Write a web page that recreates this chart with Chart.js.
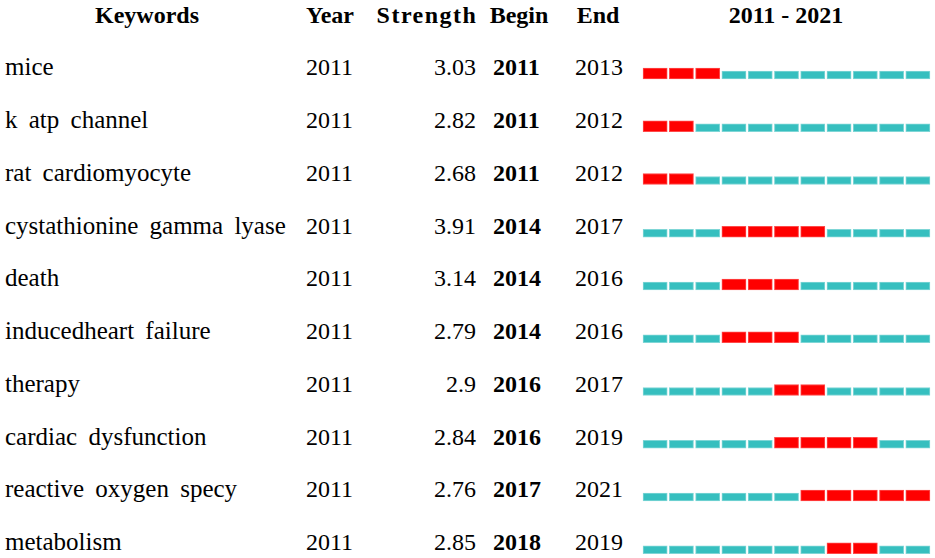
<!DOCTYPE html>
<html>
<head>
<meta charset="utf-8">
<script src="https://cdn.jsdelivr.net/npm/chart.js@4/dist/chart.umd.min.js"></script>
<style>
    body { margin: 0; background: #fff; }
    #wrap { position: relative; width: 935px; height: 558px; overflow: hidden; font-family: 'Liberation Serif', 'Times New Roman', serif; font-size: 24px; color: #000; }
    #tabla { position: absolute; left: 0; top: -11.5px; width: 935px; }
    .fila { position: relative; height: 52.75px; line-height: 52.75px; white-space: nowrap; }
    .fila span { position: absolute; top: 0; }
    .cab { font-weight: bold; }
    .cab span { transform: translateX(-50%); }
    .b { font-weight: bold; }
    .kw { font-size: 25px; word-spacing: 5px; }
    #barras { position: absolute; left: 630px; top: 0; width: 305px; height: 558px; }
</style>
</head>
<body>
<div id="wrap">
    <div id="tabla"></div>
    <div id="barras"><canvas id="burstChart" width="305" height="558"></canvas></div>
</div>
<script>
// Datos de la tabla
const keywords = ['mice', 'k atp channel', 'rat cardiomyocyte', 'cystathionine gamma lyase', 'death',
    'inducedheart failure', 'therapy', 'cardiac dysfunction', 'reactive oxygen specy', 'metabolism'];
const years = [2011, 2011, 2011, 2011, 2011, 2011, 2011, 2011, 2011, 2011];
const strengths = ['3.03', '2.82', '2.68', '3.91', '3.14', '2.79', '2.9', '2.84', '2.76', '2.85'];
const begins = [2011, 2011, 2011, 2014, 2014, 2014, 2016, 2016, 2017, 2018];
const ends = [2013, 2012, 2012, 2017, 2016, 2016, 2017, 2019, 2021, 2019];
const firstYear = 2011;
const lastYear = 2021;

// 1. Texto de la tabla
const tabla = document.getElementById('tabla');
let html = `<div class="fila cab">
    <span style="left:147px">Keywords</span>
    <span style="left:330px">Year</span>
    <span style="left:427px;letter-spacing:1.5px">Strength</span>
    <span style="left:519px">Begin</span>
    <span style="left:598px">End</span>
    <span style="left:786px">${firstYear} - ${lastYear}</span>
</div>`;
keywords.forEach((k, i) => {
    html += `<div class="fila">
        <span class="kw" style="left:5px">${k}</span>
        <span style="left:306px">${years[i]}</span>
        <span style="right:459px">${strengths[i]}</span>
        <span class="b" style="left:493px">${begins[i]}</span>
        <span style="left:575px">${ends[i]}</span>
    </div>`;
});
tabla.innerHTML = html;

// 2. Segmentos de cada año (rojo = ráfaga, turquesa = resto)
const gap = 0.04;
const rojos = [];
const turquesas = [];
keywords.forEach((k, i) => {
    for (let y = firstYear; y <= lastYear; y++) {
        const seg = [y - 0.5 + gap, y + 0.5 - gap];
        if (y >= begins[i] && y <= ends[i]) rojos.push({ x: seg, y: i });
        else turquesas.push({ x: seg, y: i + 0.028 });
    }
});

new Chart(document.getElementById('burstChart'), {
    type: 'bar',
    data: {
        datasets: [
            {
                data: turquesas,
                backgroundColor: '#36bfbf',
                borderColor: '#7fd6d6',
                borderWidth: 1,
                borderSkipped: false,
                barThickness: 8,
                grouped: false
            },
            {
                data: rojos,
                backgroundColor: '#ff0000',
                borderColor: '#ff4a4a',
                borderWidth: 1,
                borderSkipped: false,
                barThickness: 11,
                grouped: false
            }
        ]
    },
    options: {
        indexAxis: 'y',
        responsive: false,
        animation: false,
        layout: { padding: { left: 12, right: 4, top: 0, bottom: 0 } },
        scales: {
            x: { type: 'linear', min: firstYear - 0.5, max: lastYear + 0.5, offset: false, display: false },
            y: { type: 'linear', min: -1.393, max: 9.185, reverse: true, offset: false, display: false }
        },
        plugins: { legend: { display: false }, tooltip: { enabled: false } }
    }
});
</script>
</body>
</html>
